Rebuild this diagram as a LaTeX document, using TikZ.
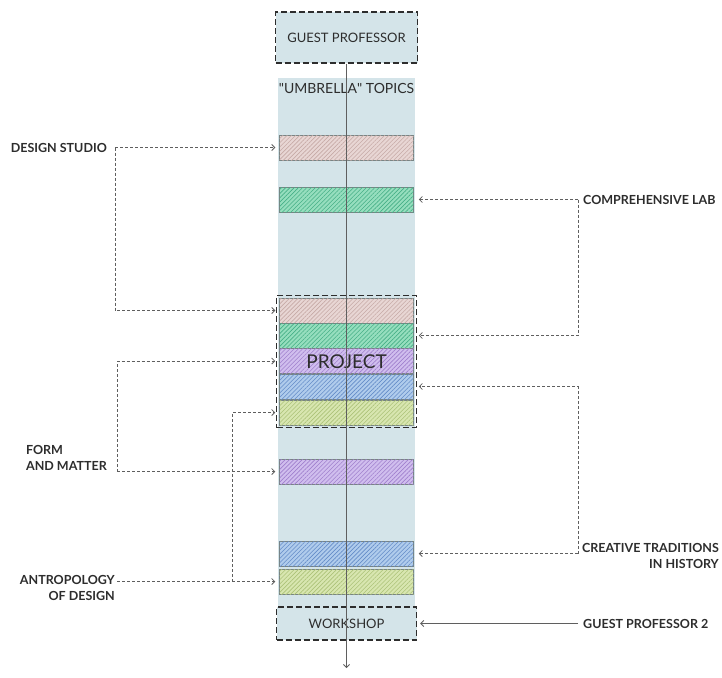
\documentclass[tikz,border=0pt]{standalone}
\usepackage{fontspec}
\setmainfont{Lato}
\usetikzlibrary{arrows.meta,patterns.meta,fit}

\definecolor{colbg}{RGB}{212,228,233}
\definecolor{inkc}{RGB}{45,45,45}
\definecolor{linec}{RGB}{95,95,95}
\definecolor{barline}{RGB}{120,132,132}
\definecolor{pinkfill}{RGB}{232,214,212}
\definecolor{pinkhatch}{RGB}{198,170,166}
\definecolor{greenfill}{RGB}{150,222,190}
\definecolor{greenhatch}{RGB}{70,175,135}
\definecolor{purplefill}{RGB}{208,190,238}
\definecolor{purplehatch}{RGB}{160,128,205}
\definecolor{bluefill}{RGB}{176,204,236}
\definecolor{bluehatch}{RGB}{100,140,200}
\definecolor{limefill}{RGB}{216,230,176}
\definecolor{limehatch}{RGB}{172,194,120}

\begin{document}
\begin{tikzpicture}[x=1pt,y=-1pt,>={Straight Barb[length=3pt,width=6pt]},
    font=\fontsize{13}{15}\selectfont,text=inkc]

    % ============================
    % Styles
    % ============================

    \tikzstyle{bar}=[rectangle,draw=barline,line width=0.5pt,
                     minimum width=134pt,minimum height=25pt,inner sep=0pt]
    \tikzstyle{pinkbar}=[bar,fill=pinkfill,postaction={pattern={Lines[angle=45,distance=3pt,line width=0.6pt]},pattern color=pinkhatch}]
    \tikzstyle{greenbar}=[bar,fill=greenfill,postaction={pattern={Lines[angle=45,distance=3pt,line width=0.6pt]},pattern color=greenhatch}]
    \tikzstyle{purplebar}=[bar,fill=purplefill,postaction={pattern={Lines[angle=45,distance=3pt,line width=0.6pt]},pattern color=purplehatch}]
    \tikzstyle{bluebar}=[bar,fill=bluefill,postaction={pattern={Lines[angle=45,distance=3pt,line width=0.6pt]},pattern color=bluehatch}]
    \tikzstyle{limebar}=[bar,fill=limefill,postaction={pattern={Lines[angle=45,distance=3pt,line width=0.6pt]},pattern color=limehatch}]
    \tikzstyle{dbox}=[rectangle,draw=inkc,fill=colbg,line width=1.4pt,
                      dash pattern=on 6pt off 3pt,inner sep=0pt]
    \tikzstyle{lbl}=[font=\fontsize{12.5}{16}\selectfont\bfseries,inner sep=0pt]
    \tikzstyle{dline}=[linec,line width=0.8pt,dash pattern=on 3pt off 2pt]
    \tikzstyle{sline}=[linec,line width=0.8pt]

    \useasboundingbox (0,0) rectangle (722,677);

    % ============================
    % Column and boxes
    % ============================

    \node[rectangle,fill=colbg,minimum width=137pt,minimum height=529pt,inner sep=0pt]
        (col) at (346.5,342.5) {};
    \node[font=\fontsize{14}{16}\selectfont] (umb) at (346.5,88) {\textquotedbl UMBRELLA\textquotedbl{} TOPICS};

    \node[dbox,minimum width=142pt,minimum height=51pt] (gp) at (346.5,37.5) {GUEST PROFESSOR};
    \node[dbox,minimum width=140pt,minimum height=33pt] (ws) at (346.5,623.5) {WORKSHOP};

    % Topic bars
    \node[pinkbar]   (b1)  at (346.5,147.5) {};
    \node[greenbar]  (b2)  at (346.5,199.5) {};
    \node[pinkbar]   (b3)  at (346.5,310.5) {};
    \node[greenbar]  (b4)  at (346.5,335.5) {};
    \node[purplebar] (b5)  at (346.5,361) {};
    \node[bluebar]   (b6)  at (346.5,386.5) {};
    \node[limebar]   (b7)  at (346.5,412.5) {};
    \node[purplebar] (b8)  at (346.5,471.5) {};
    \node[bluebar]   (b9)  at (346.5,553.5) {};
    \node[limebar]   (b10) at (346.5,581.5) {};

    \node[rectangle,draw=inkc,line width=1.4pt,dash pattern=on 6pt off 3pt,
          inner sep=2.5pt,fit=(b3)(b7)] (proj) {};
    \node[font=\fontsize{19}{19}\selectfont] (projlbl) at (proj.center) {PROJECT};

    % Time line
    \coordinate (tend) at (346.5,668);
    \draw[sline,->] (gp.south) -- (tend);

    % ============================
    % Left labels
    % ============================

    \node[lbl,anchor=east] (ds) at (107,147.5) {DESIGN STUDIO};
    \draw[dline,->,shorten >=4pt] ([xshift=8pt]ds.east) -- (b1.west);
    \draw[dline,->,shorten >=4pt] ([xshift=8pt]ds.east) |- (b3.west);

    \node[lbl,anchor=east,align=left] (fm) at (107,458) {FORM\\AND MATTER};
    \coordinate (fmj) at (117,471.5);
    \draw[dline,->,shorten >=4pt] (fmj) -- (b8.west);
    \draw[dline,->,shorten >=4pt] (fmj) |- (b5.west);

    \node[lbl,anchor=north east,align=right] (ant) at (115,575) {ANTROPOLOGY\\OF DESIGN};
    \coordinate (antj) at (117,581.5);
    \coordinate (antk) at (232,581.5);
    \draw[dline,->,shorten >=4pt] (antj) -- (b10.west);
    \draw[dline,->,shorten >=4pt] (antk) |- (b7.west);

    % ============================
    % Right labels
    % ============================

    \node[lbl,anchor=west] (cl) at (583,199.5) {COMPREHENSIVE LAB};
    \draw[dline,->,shorten >=5pt] ([xshift=-5pt]cl.west) -- (b2.east);
    \draw[dline,->,shorten >=5pt] ([xshift=-5pt]cl.west) |- (b4.east);

    \node[lbl,anchor=north east,align=right] (ct) at (719,543) {CREATIVE TRADITIONS\\IN HISTORY};
    \coordinate (ctj) at (578,553.5);
    \draw[dline,->,shorten >=5pt] (ctj) -- (b9.east);
    \draw[dline,->,shorten >=5pt] (ctj) |- (b6.east);

    \node[lbl,anchor=west] (gp2) at (583,623.5) {GUEST PROFESSOR 2};
    \draw[sline,->,shorten >=3pt] ([xshift=-5pt]gp2.west) -- (ws.east);

\end{tikzpicture}
\end{document}
